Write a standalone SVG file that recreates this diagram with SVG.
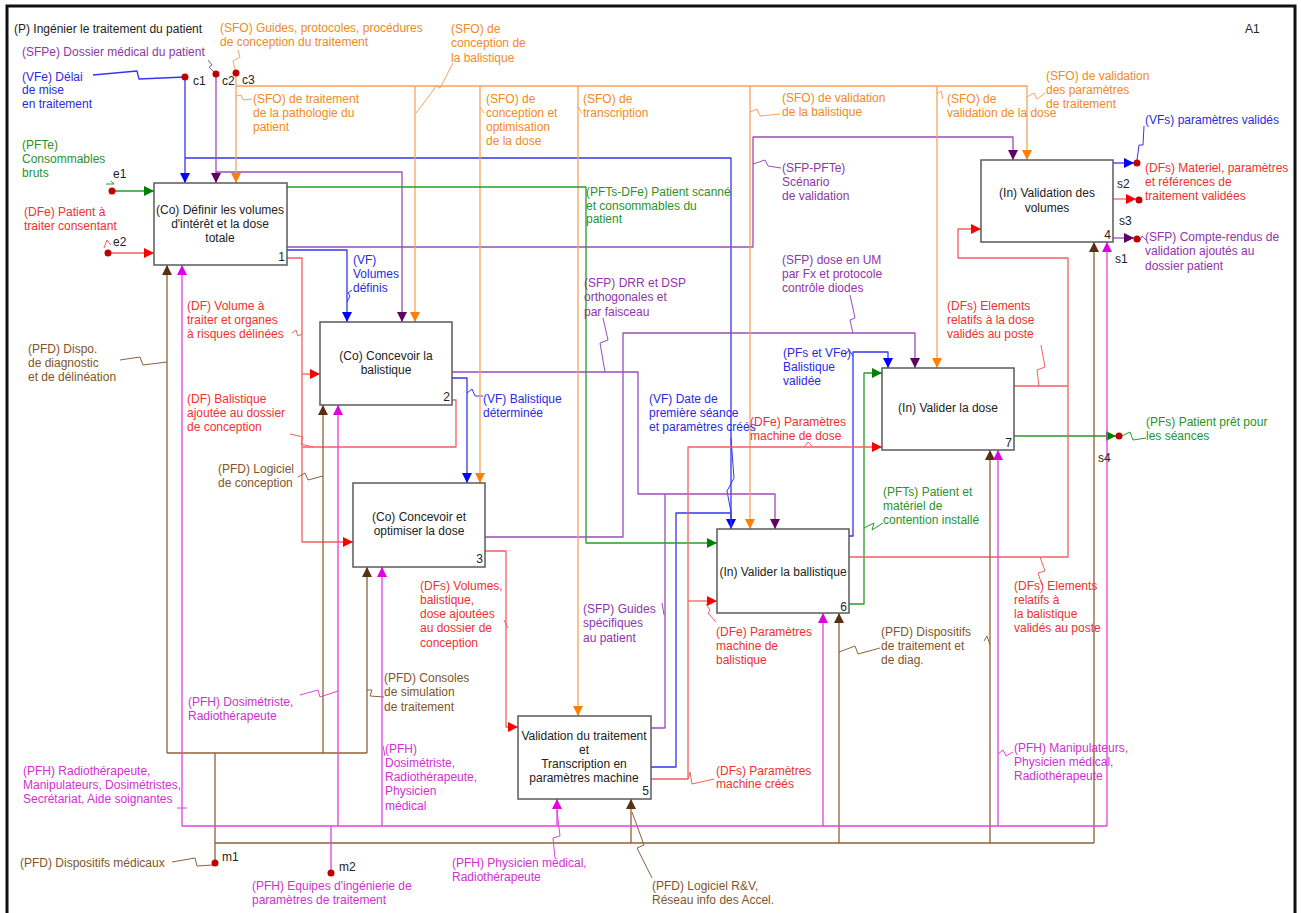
<svg xmlns="http://www.w3.org/2000/svg" width="1301" height="913" viewBox="0 0 1301 913">
<style>
text{font-family:"Liberation Sans",Arial,sans-serif;font-size:12px;}
.bx{fill:#fff;stroke:#5a5a5a;stroke-width:1.5;}
.bt{fill:#222;text-anchor:middle;}
.nb{fill:#222;text-anchor:end;}
.k{fill:#222;}
.c{fill:none;stroke-width:1.3;stroke-linejoin:round;}
.lb{fill:none;stroke-width:1;}
.b{stroke:#3535f0;} .tb{fill:#2a2ae0;}
.p{stroke:#9a4cb8;} .tp{fill:#8e35a8;}
.o{stroke:#f7a35c;} .to{fill:#f08a24;}
.g{stroke:#2a9a2a;} .tg{fill:#2a922a;}
.r{stroke:#f06060;} .tr{fill:#f03030;}
.w{stroke:#8c6239;} .tw{fill:#80552a;}
.m{stroke:#e040e0;} .tm{fill:#d030d0;}
.dot{fill:#c00000;}
</style>
<defs>
<marker id="ab" markerUnits="userSpaceOnUse" markerWidth="11" markerHeight="10" refX="10" refY="5" orient="auto"><path d="M0,0 L10,5 L0,10 z" fill="#0000ff"/></marker>
<marker id="ap" markerUnits="userSpaceOnUse" markerWidth="11" markerHeight="10" refX="10" refY="5" orient="auto"><path d="M0,0 L10,5 L0,10 z" fill="#600060"/></marker>
<marker id="ao" markerUnits="userSpaceOnUse" markerWidth="11" markerHeight="10" refX="10" refY="5" orient="auto"><path d="M0,0 L10,5 L0,10 z" fill="#ff8000"/></marker>
<marker id="ag" markerUnits="userSpaceOnUse" markerWidth="11" markerHeight="10" refX="10" refY="5" orient="auto"><path d="M0,0 L10,5 L0,10 z" fill="#008000"/></marker>
<marker id="ar" markerUnits="userSpaceOnUse" markerWidth="11" markerHeight="10" refX="10" refY="5" orient="auto"><path d="M0,0 L10,5 L0,10 z" fill="#ff0000"/></marker>
<marker id="aw" markerUnits="userSpaceOnUse" markerWidth="11" markerHeight="10" refX="10" refY="5" orient="auto"><path d="M0,0 L10,5 L0,10 z" fill="#5a3010"/></marker>
<marker id="am" markerUnits="userSpaceOnUse" markerWidth="11" markerHeight="10" refX="10" refY="5" orient="auto"><path d="M0,0 L10,5 L0,10 z" fill="#e000e0"/></marker>
</defs>
<rect x="0" y="0" width="1301" height="913" fill="#fff"/>
<path d="M7,914 V6 H1295 V914" fill="none" stroke="#111" stroke-width="3"/>
<text class="k" x="14" y="33">(P) Ingénier le traitement du patient</text>
<text class="k" x="1245" y="33">A1</text>

<g id="connectors">
<!-- blue -->
<path class="c b" d="M93,75 L137,71 L139,79 L185,77"/>
<path class="c b" d="M185,77 V183" marker-end="url(#ab)"/>
<path class="c b" d="M185,158 H731 V529" marker-end="url(#ab)"/>
<path class="c b" d="M287,250 H347 V322" marker-end="url(#ab)"/>
<path class="c b" d="M452,378 H467 V483" marker-end="url(#ab)"/>
<path class="c b" d="M651,767 H676 V513 H731 V529"/>
<path class="c b" d="M849,536 H853 V352 H888 V368" marker-end="url(#ab)"/>
<path class="c b" d="M1113,163 H1134" marker-end="url(#ab)"/>
<path class="lb b" d="M347,302 L350,296 L348,293 L352,290"/>
<path class="lb b" d="M467,393 L472,389 L475,396 L483,396"/>
<path class="lb b" d="M731,438 L734,478 L727,491 L731,512"/>
<path class="lb b" d="M845,355 L849,350 L853,356"/>
<path class="lb b" d="M1137,160 L1139,145 L1143,145 L1144,126"/>
<!-- purple -->
<path class="c p" d="M216,74 V183" marker-end="url(#ap)"/>
<path class="c p" d="M216,172 H402 V322" marker-end="url(#ap)"/>
<path class="c p" d="M287,247 H753 V137 H1013 V160" marker-end="url(#ap)"/>
<path class="c p" d="M452,372 H638 V494 H775 V529" marker-end="url(#ap)"/>
<path class="c p" d="M485,537 H623 V333 H915 V368" marker-end="url(#ap)"/>
<path class="c p" d="M651,728 H665 V494"/>
<path class="c p" d="M1113,238 H1134" marker-end="url(#ap)"/>
<path class="lb p" d="M208,60 L212,65 L209,67 L215,73"/>
<path class="lb p" d="M753,164 L765,160 L768,166 L781,168"/>
<path class="lb p" d="M603,318 L608,340 L600,343 L605,372"/>
<path class="lb p" d="M850,295 L855,318 L850,320 L853,333"/>
<path class="lb p" d="M662,603 L664,615"/>
<path class="lb p" d="M1139,242 L1142,236 L1146,240"/>
<!-- orange -->
<path class="c o" d="M236,73 V183" marker-end="url(#ao)"/>
<path class="c o" d="M236,86 H1027 V160" marker-end="url(#ao)"/>
<path class="c o" d="M415,86 V322" marker-end="url(#ao)"/>
<path class="c o" d="M480,86 V483" marker-end="url(#ao)"/>
<path class="c o" d="M578,86 V716" marker-end="url(#ao)"/>
<path class="c o" d="M750,86 V529" marker-end="url(#ao)"/>
<path class="c o" d="M937,86 V368" marker-end="url(#ao)"/>
<path class="lb o" d="M238,50 L240,57 L233,61 L236,73"/>
<path class="lb o" d="M236,96 L241,95 L243,100 L252,99"/>
<path class="lb o" d="M453,63 L440,88 L436,86 L432,92 L416,113"/>
<path class="lb o" d="M480,107 L484,113"/>
<path class="lb o" d="M578,107 L582,113"/>
<path class="lb o" d="M750,112 L757,109 L760,116 L780,114"/>
<path class="lb o" d="M937,94 L941,91 L943,99"/>
<path class="lb o" d="M1027,97 L1034,93 L1037,99 L1045,93"/>
<!-- green -->
<path class="c g" d="M112,191 H154" marker-end="url(#ag)"/>
<path class="c g" d="M287,187 H586 V543 H717" marker-end="url(#ag)"/>
<path class="c g" d="M849,604 H864 V373 H882" marker-end="url(#ag)"/>
<path class="c g" d="M1014,436 H1116" marker-end="url(#ag)"/>
<path class="lb g" d="M106,184 L114,184 L111,181"/>
<path class="lb g" d="M864,528 L874,523 L872,530 L883,523"/>
<path class="lb g" d="M1122,436 L1130,432 L1133,440 L1146,438"/>
<!-- red -->
<path class="c r" d="M108,253 H154" marker-end="url(#ar)"/>
<path class="c r" d="M287,258 H302 V542 H353" marker-end="url(#ar)"/>
<path class="c r" d="M302,374 H320" marker-end="url(#ar)"/>
<path class="c r" d="M452,400 H456 V447 H302"/>
<path class="c r" d="M485,551 H506 V727 H518" marker-end="url(#ar)"/>
<path class="c r" d="M651,779 H688 V447 H882" marker-end="url(#ar)"/>
<path class="c r" d="M688,601 H717" marker-end="url(#ar)"/>
<path class="c r" d="M849,557 H1068 V258 H958 V229 H981" marker-end="url(#ar)"/>
<path class="c r" d="M1014,386 H1068"/>
<path class="c r" d="M1113,199 H1136" marker-end="url(#ar)"/>
<path class="lb r" d="M104,248 L107,240 L111,245"/>
<path class="lb r" d="M292,333 L296,330 L298,336 L302,334"/>
<path class="lb r" d="M290,434 L303,437 L301,444 L313,447"/>
<path class="lb r" d="M504,620 L508,628"/>
<path class="lb r" d="M804,447 L808,442 L812,446"/>
<path class="lb r" d="M706,604 L710,610 L708,613 L716,622"/>
<path class="lb r" d="M688,779 L690,772 L692,784 L714,779"/>
<path class="lb r" d="M1041,345 L1045,367 L1037,370 L1039,386"/>
<path class="lb r" d="M1040,557 L1045,571 L1038,573 L1042,585"/>
<!-- brown -->
<path class="c w" d="M215,863 V753"/>
<path class="c w" d="M167,753 H367"/>
<path class="c w" d="M167,753 V265" marker-end="url(#aw)"/>
<path class="c w" d="M323,753 V405" marker-end="url(#aw)"/>
<path class="c w" d="M367,753 V567" marker-end="url(#aw)"/>
<path class="c w" d="M215,843 H1094" stroke-width="2"/>
<path class="c w" d="M631,843 V799" marker-end="url(#aw)"/>
<path class="c w" d="M839,843 V613" marker-end="url(#aw)"/>
<path class="c w" d="M990,843 V450" marker-end="url(#aw)"/>
<path class="c w" d="M1094,843 V242" marker-end="url(#aw)"/>
<path class="lb w" d="M172,862 L195,858 L197,866 L213,865"/>
<path class="lb w" d="M120,360 L140,357 L143,365 L167,362"/>
<path class="lb w" d="M298,477 L305,473 L308,480 L323,476"/>
<path class="lb w" d="M367,690 L372,690 L370,696 L384,697"/>
<path class="lb w" d="M652,878 L637,848 L644,845 L632,812"/>
<path class="lb w" d="M839,652 L855,646 L858,654 L880,648"/>
<path class="lb w" d="M984,641 L987,636 L990,645"/>
<!-- magenta -->
<path class="c m" d="M331,873 V826"/>
<path class="c m" d="M182,826 H1107"/>
<path class="c m" d="M182,826 V265" marker-end="url(#am)"/>
<path class="c m" d="M338,826 V405" marker-end="url(#am)"/>
<path class="c m" d="M382,826 V567" marker-end="url(#am)"/>
<path class="c m" d="M557,826 V799" marker-end="url(#am)"/>
<path class="c m" d="M823,826 V613" marker-end="url(#am)"/>
<path class="c m" d="M998,826 V450" marker-end="url(#am)"/>
<path class="c m" d="M1107,826 V242" marker-end="url(#am)"/>
<path class="lb m" d="M300,695 L318,690 L320,697 L338,691"/>
<path class="lb m" d="M383,746 L385,756"/>
<path class="lb m" d="M177,808 L187,808"/>
<path class="lb m" d="M557,810 L560,836 L553,838 L555,858"/>
<path class="lb m" d="M998,754 L1003,750 L1006,756 L1013,752"/>
<!-- dots -->
<circle class="dot" cx="185" cy="77" r="3.5"/>
<circle class="dot" cx="216" cy="74" r="3.5"/>
<circle class="dot" cx="236" cy="73" r="3.5"/>
<circle class="dot" cx="112" cy="191" r="3.5"/>
<circle class="dot" cx="108" cy="253" r="3.5"/>
<circle class="dot" cx="215" cy="863" r="3.5"/>
<circle class="dot" cx="331" cy="873" r="3.5"/>
<circle class="dot" cx="1137" cy="163" r="3.5"/>
<circle class="dot" cx="1139" cy="200" r="3.5"/>
<circle class="dot" cx="1137" cy="239" r="3.5"/>
<circle class="dot" cx="1119" cy="436" r="3.5"/>
</g>

<g id="n1">
<rect class="bx" x="154" y="183" width="133" height="82"/>
<text class="bt"><tspan x="220" y="214">(Co) Définir les volumes</tspan><tspan x="220" y="228">d'intérêt et la dose</tspan><tspan x="220" y="242">totale</tspan></text>
<text class="nb" x="285" y="261">1</text>
</g>
<g id="n2">
<rect class="bx" x="320" y="322" width="132" height="83"/>
<text class="bt"><tspan x="386" y="360">(Co) Concevoir la</tspan><tspan x="386" y="374">balistique</tspan></text>
<text class="nb" x="450" y="401">2</text>
</g>
<g id="n3">
<rect class="bx" x="353" y="483" width="132" height="84"/>
<text class="bt"><tspan x="419" y="521">(Co) Concevoir et</tspan><tspan x="419" y="535">optimiser la dose</tspan></text>
<text class="nb" x="483" y="563">3</text>
</g>
<g id="n4">
<rect class="bx" x="981" y="160" width="132" height="82"/>
<text class="bt"><tspan x="1047" y="197">(In) Validation des</tspan><tspan x="1047" y="212">volumes</tspan></text>
<text class="nb" x="1111" y="239">4</text>
</g>
<g id="n5">
<rect class="bx" x="518" y="716" width="133" height="83"/>
<text class="bt"><tspan x="584" y="740">Validation du traitement</tspan><tspan x="584" y="754">et</tspan><tspan x="584" y="768">Transcription en</tspan><tspan x="584" y="782">paramètres machine</tspan></text>
<text class="nb" x="649" y="795">5</text>
</g>
<g id="n6">
<rect class="bx" x="717" y="529" width="132" height="84"/>
<text class="bt" x="783" y="576">(In) Valider la ballistique</text>
<text class="nb" x="847" y="611">6</text>
</g>
<g id="n7">
<rect class="bx" x="882" y="368" width="132" height="82"/>
<text class="bt" x="948" y="412">(In) Valider la dose</text>
<text class="nb" x="1012" y="447">7</text>
</g>

<g id="labels">
<text class="k" x="193" y="85">c1</text>
<text class="k" x="222" y="85">c2</text>
<text class="k" x="242" y="84">c3</text>
<text class="k" x="113" y="178">e1</text>
<text class="k" x="113" y="246">e2</text>
<text class="k" x="222" y="861">m1</text>
<text class="k" x="339" y="871">m2</text>
<text class="k" x="1117" y="188">s2</text>
<text class="k" x="1119" y="225">s3</text>
<text class="k" x="1115" y="263">s1</text>
<text class="k" x="1098" y="462">s4</text>

<text class="tp" x="22" y="56">(SFPe) Dossier médical du patient</text>
<text class="to"><tspan x="220" y="32">(SFO) Guides, protocoles, procédures</tspan><tspan x="220" y="46">de conception du traitement</tspan></text>
<text class="tb"><tspan x="22" y="81">(VFe) Délai</tspan><tspan x="22" y="94">de mise</tspan><tspan x="22" y="108">en traitement</tspan></text>
<text class="to"><tspan x="253" y="103">(SFO) de traitement</tspan><tspan x="253" y="117">de la pathologie du</tspan><tspan x="253" y="131">patient</tspan></text>
<text class="tg"><tspan x="22" y="149">(PFTe)</tspan><tspan x="22" y="163">Consommables</tspan><tspan x="22" y="177">bruts</tspan></text>
<text class="tr"><tspan x="24" y="216">(DFe) Patient à</tspan><tspan x="24" y="230">traiter consentant</tspan></text>
<text class="to"><tspan x="451" y="33">(SFO) de</tspan><tspan x="451" y="47">conception de</tspan><tspan x="451" y="62">la balistique</tspan></text>
<text class="to"><tspan x="486" y="103">(SFO) de</tspan><tspan x="486" y="117">conception et</tspan><tspan x="486" y="131">optimisation</tspan><tspan x="486" y="145">de la dose</tspan></text>
<text class="to"><tspan x="583" y="103">(SFO)  de</tspan><tspan x="583" y="117">transcription</tspan></text>
<text class="to"><tspan x="782" y="102">(SFO) de validation</tspan><tspan x="782" y="116">de la balistique</tspan></text>
<text class="to"><tspan x="947" y="103">(SFO) de</tspan><tspan x="947" y="117">validation de la dose</tspan></text>
<text class="to"><tspan x="1046" y="80">(SFO) de validation</tspan><tspan x="1046" y="94">des paramètres</tspan><tspan x="1046" y="108">de traitement</tspan></text>
<text class="tb" x="1145" y="124">(VFs) paramètres validés</text>
<text class="tr"><tspan x="1145" y="172">(DFs) Materiel, paramètres</tspan><tspan x="1145" y="186">et références de</tspan><tspan x="1145" y="200">traitement validées</tspan></text>
<text class="tp"><tspan x="1145" y="241">(SFP) Compte-rendus de</tspan><tspan x="1145" y="255">validation ajoutés au</tspan><tspan x="1145" y="270">dossier patient</tspan></text>
<text class="tg"><tspan x="586" y="196">(PFTs-DFe) Patient scanné</tspan><tspan x="586" y="210">et consommables du</tspan><tspan x="586" y="223">patient</tspan></text>
<text class="tp"><tspan x="782" y="172">(SFP-PFTe)</tspan><tspan x="782" y="186">Scénario</tspan><tspan x="782" y="200">de validation</tspan></text>
<text class="tb"><tspan x="353" y="264">(VF)</tspan><tspan x="353" y="278">Volumes</tspan><tspan x="353" y="292">définis</tspan></text>
<text class="tp"><tspan x="584" y="287">(SFP) DRR et DSP</tspan><tspan x="584" y="301">orthogonales et</tspan><tspan x="584" y="316">par faisceau</tspan></text>
<text class="tp"><tspan x="782" y="264">(SFP) dose en UM</tspan><tspan x="782" y="278">par Fx et protocole</tspan><tspan x="782" y="292">contrôle diodes</tspan></text>
<text class="tr"><tspan x="187" y="310">(DF) Volume à</tspan><tspan x="187" y="324">traiter et organes</tspan><tspan x="187" y="338">à risques délinées</tspan></text>
<text class="tw"><tspan x="28" y="353">(PFD) Dispo.</tspan><tspan x="28" y="367">de diagnostic</tspan><tspan x="28" y="381">et de délinéation</tspan></text>
<text class="tr"><tspan x="947" y="310">(DFs) Elements</tspan><tspan x="947" y="324">relatifs à la dose</tspan><tspan x="947" y="338">validés au poste</tspan></text>
<text class="tb"><tspan x="783" y="357">(PFs et VFe)</tspan><tspan x="783" y="371">Balistique</tspan><tspan x="783" y="385">validée</tspan></text>
<text class="tr"><tspan x="187" y="403">(DF) Balistique</tspan><tspan x="187" y="417">ajoutée au dossier</tspan><tspan x="187" y="431">de conception</tspan></text>
<text class="tb"><tspan x="483" y="403">(VF) Balistique</tspan><tspan x="483" y="417">déterminée</tspan></text>
<text class="tb"><tspan x="649" y="403">(VF) Date de</tspan><tspan x="649" y="417">première séance</tspan><tspan x="649" y="431">et paramètres créés</tspan></text>
<text class="tr"><tspan x="750" y="426">(DFe) Paramètres</tspan><tspan x="750" y="440">machine de dose</tspan></text>
<text class="tg"><tspan x="1146" y="426">(PFs) Patient prêt pour</tspan><tspan x="1146" y="440">les séances</tspan></text>
<text class="tw"><tspan x="218" y="473">(PFD) Logiciel</tspan><tspan x="218" y="487">de conception</tspan></text>
<text class="tg"><tspan x="883" y="496">(PFTs) Patient et</tspan><tspan x="883" y="510">matériel de</tspan><tspan x="883" y="524">contention installé</tspan></text>
<text class="tr"><tspan x="420" y="590">(DFs) Volumes,</tspan><tspan x="420" y="604">balistique,</tspan><tspan x="420" y="618">dose ajoutées</tspan><tspan x="420" y="632">au dossier de</tspan><tspan x="420" y="647">conception</tspan></text>
<text class="tr"><tspan x="1014" y="590">(DFs) Elements</tspan><tspan x="1014" y="604">relatifs à</tspan><tspan x="1014" y="618">la balistique</tspan><tspan x="1014" y="632">validés au poste</tspan></text>
<text class="tp"><tspan x="583" y="613">(SFP) Guides</tspan><tspan x="583" y="627">spécifiques</tspan><tspan x="583" y="642">au patient</tspan></text>
<text class="tr"><tspan x="716" y="636">(DFe) Paramètres</tspan><tspan x="716" y="650">machine de</tspan><tspan x="716" y="664">balistique</tspan></text>
<text class="tw"><tspan x="881" y="636">(PFD) Dispositifs</tspan><tspan x="881" y="650">de traitement et</tspan><tspan x="881" y="664">de diag.</tspan></text>
<text class="tw"><tspan x="384" y="682">(PFD) Consoles</tspan><tspan x="384" y="696">de simulation</tspan><tspan x="384" y="711">de traitement</tspan></text>
<text class="tm"><tspan x="188" y="706">(PFH) Dosimétriste,</tspan><tspan x="188" y="720">Radiothérapeute</tspan></text>
<text class="tm"><tspan x="385" y="753">(PFH)</tspan><tspan x="385" y="767">Dosimétriste,</tspan><tspan x="385" y="781">Radiothérapeute,</tspan><tspan x="385" y="795">Physicien</tspan><tspan x="385" y="810">médical</tspan></text>
<text class="tm"><tspan x="1014" y="752">(PFH) Manipulateurs,</tspan><tspan x="1014" y="766">Physicien médical,</tspan><tspan x="1014" y="780">Radiothérapeute</tspan></text>
<text class="tm"><tspan x="23" y="775">(PFH) Radiothérapeute,</tspan><tspan x="23" y="789">Manipulateurs, Dosimétristes,</tspan><tspan x="23" y="803">Secrétariat, Aide soignantes</tspan></text>
<text class="tr"><tspan x="716" y="775">(DFs) Paramètres</tspan><tspan x="716" y="788">machine créés</tspan></text>
<text class="tw" x="20" y="867">(PFD) Dispositifs médicaux</text>
<text class="tm"><tspan x="452" y="867">(PFH) Physicien médical,</tspan><tspan x="452" y="881">Radiothérapeute</tspan></text>
<text class="tm"><tspan x="252" y="890">(PFH) Equipes d'ingénierie de</tspan><tspan x="252" y="904">paramètres de traitement</tspan></text>
<text class="tw"><tspan x="652" y="890">(PFD) Logiciel R&amp;V,</tspan><tspan x="652" y="904">Réseau info des Accel.</tspan></text>
</g>
</svg>
